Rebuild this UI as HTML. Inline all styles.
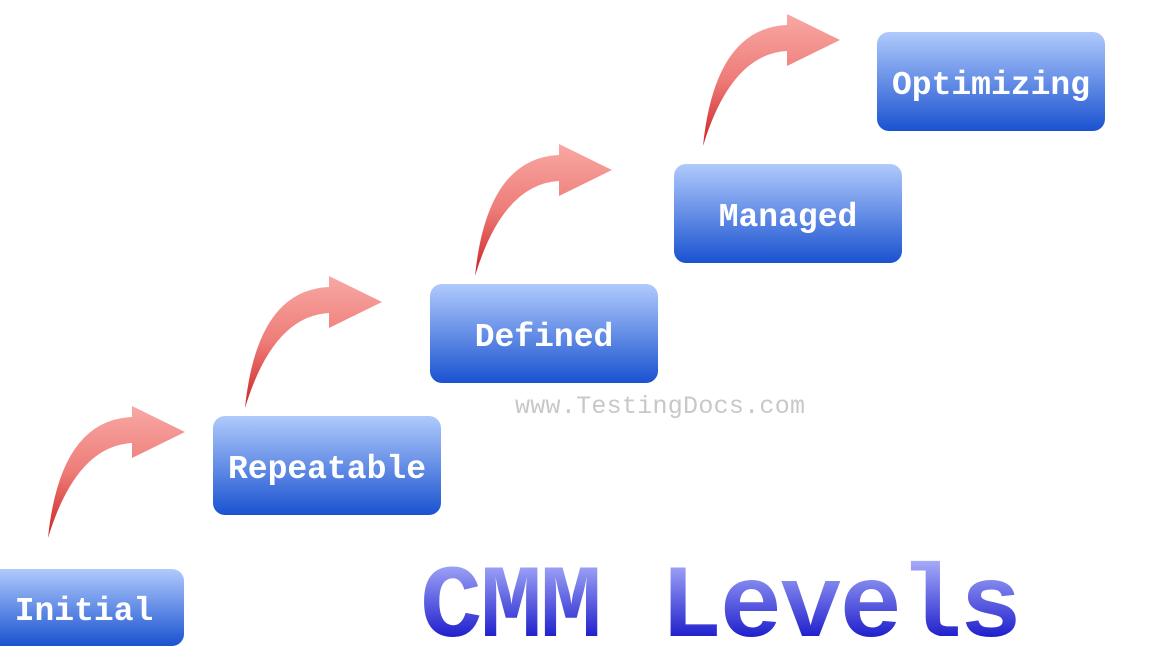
<!DOCTYPE html>
<html><head><meta charset="utf-8"><style>
html,body{margin:0;padding:0;background:#fff;width:1160px;height:665px;overflow:hidden}
</style></head><body>
<svg width="1160" height="665" viewBox="0 0 1160 665" xmlns="http://www.w3.org/2000/svg">
<defs>
<linearGradient id="bx" x1="0" y1="0" x2="0" y2="1">
<stop offset="0" stop-color="#b0cafc"/><stop offset="1" stop-color="#1a52d0"/>
</linearGradient>
<linearGradient id="ar" x1="0" y1="0" x2="0" y2="1">
<stop offset="0" stop-color="#f8a8a4"/><stop offset="0.5" stop-color="#ee7c78"/><stop offset="1" stop-color="#cc2222"/>
</linearGradient>
<linearGradient id="tx" gradientUnits="userSpaceOnUse" x1="0" y1="558" x2="0" y2="638">
<stop offset="0" stop-color="#aab0fa"/><stop offset="1" stop-color="#1e1ecc"/>
</linearGradient>
<path id="arrow" d="M48,538 Q60,420 132,417 L132,406 L185,432 L132,458 L132,443 Q76,446 48,538 Z" fill="url(#ar)"/>
</defs>
<use href="#arrow"/>
<use href="#arrow" transform="translate(197,-130)"/>
<use href="#arrow" transform="translate(427,-262)"/>
<use href="#arrow" transform="translate(655,-392)"/>
<g font-family="Liberation Mono, monospace" font-weight="bold" fill="#fff" font-size="33" text-anchor="middle">
<rect x="-12" y="569" width="196" height="77" rx="12" fill="url(#bx)"/>
<text x="84" y="620">Initial</text>
<rect x="213" y="416" width="228" height="99" rx="12" fill="url(#bx)"/>
<text x="327" y="478">Repeatable</text>
<rect x="430" y="284" width="228" height="99" rx="12" fill="url(#bx)"/>
<text x="544" y="346">Defined</text>
<rect x="674" y="164" width="228" height="99" rx="12" fill="url(#bx)"/>
<text x="788" y="226">Managed</text>
<rect x="877" y="32" width="228" height="99" rx="12" fill="url(#bx)"/>
<text x="991" y="94">Optimizing</text>
</g>
<text x="515" y="413" font-family="Liberation Mono, monospace" font-size="25" fill="#c8c8c8" textLength="290">www.TestingDocs.com</text>
<text x="420" y="636" font-family="Liberation Mono, monospace" font-weight="bold" font-size="104" fill="url(#tx)" textLength="602">CMM Levels</text>
</svg>
</body></html>
